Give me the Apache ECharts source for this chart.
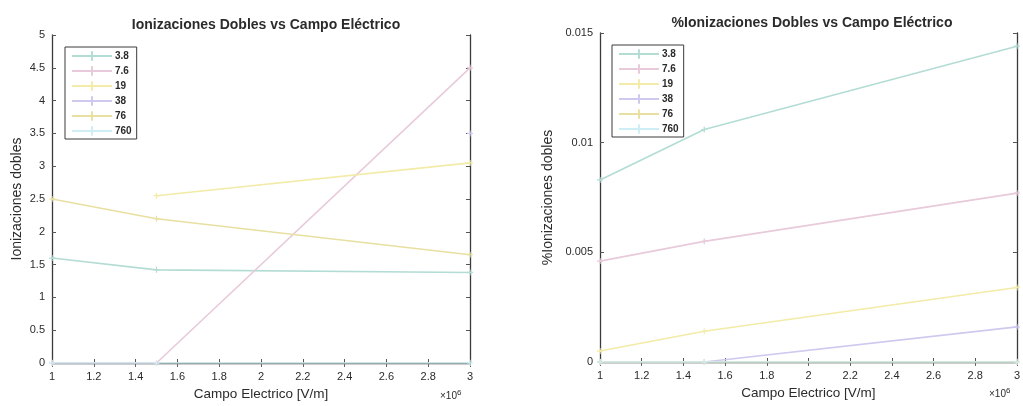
<!DOCTYPE html>
<html>
<head>
<meta charset="utf-8">
<title>Ionizaciones Dobles vs Campo Eléctrico</title>
<script src="https://cdn.jsdelivr.net/npm/echarts@6/dist/echarts.min.js"></script>
<style>
  html, body { margin: 0; padding: 0; background: #ffffff; }
  #chart { width: 1023px; height: 406px; }
</style>
</head>
<body>
<div id="chart"></div>
<script>
// Campo eléctrico (x10^6 V/m)
const campo = [1, 1.5, 3];
// Presiones (torr) usadas como leyenda
const presiones = ['3.8', '7.6', '19', '38', '76', '760'];

// Ionizaciones dobles por presión
const dobles_3_8 = [1.6, 1.42, 1.38];
const dobles_7_6 = [0, 0, 4.5];
const dobles_19 = [null, 2.55, 3.05];
const dobles_38 = [null, null, 3.5];
const dobles_76 = [2.5, 2.2, 1.65];
const dobles_760 = [0, 0, 0];

// Porcentaje de ionizaciones dobles por presión
const pct_3_8 = [0.0083, 0.0106, 0.0144];
const pct_7_6 = [0.0046, 0.0055, 0.0077];
const pct_19 = [0.0005, 0.0014, 0.0034];
const pct_38 = [0, 0, 0.0016];
const pct_76 = [0, 0, 0];
const pct_760 = [0, 0, 0];

const colores = ['#b3dcd4', '#e8cada', '#f3eba8', '#cfc8ef', '#e8e0a0', '#cdeef5'];

const serieDobles = [dobles_3_8, dobles_7_6, dobles_19, dobles_38, dobles_76, dobles_760];
const seriePct = [pct_3_8, pct_7_6, pct_19, pct_38, pct_76, pct_760];

const plus = 'path://M4,0H6V4H10V6H6V10H4V6H0V4H4Z';
const ink = '#2b2b2b';
const fontFam = '"Liberation Sans", Arial, sans-serif';

function pares(vals) {
  return campo.map((x, i) => [x, vals[i]]);
}

function makeSeries(sets, xi, yi) {
  return sets.map((vals, k) => ({
    name: presiones[k],
    type: 'line',
    xAxisIndex: xi,
    yAxisIndex: yi,
    data: pares(vals),
    color: colores[k],
    symbol: plus,
    symbolSize: 6,
    showSymbol: true,
    lineStyle: { width: 1.6, color: colores[k] },
    itemStyle: { color: colores[k] },
    animation: false,
    z: 1
  }));
}

function fmtX(v) {
  return Number(v.toFixed(1)).toString();
}

function bottomAxis(gi) {
  return {
    type: 'value', gridIndex: gi, position: 'bottom',
    min: 1, max: 3, interval: 0.2,
    axisLine: { lineStyle: { color: '#3a3a3a', width: 1.3 } },
    axisTick: { inside: true, length: 4, lineStyle: { color: '#555' } },
    axisLabel: { color: ink, fontSize: 11, fontFamily: fontFam, margin: 8, formatter: fmtX },
    splitLine: { show: false },
    name: 'Campo Electrico [V/m]',
    nameLocation: 'middle', nameGap: 24,
    nameTextStyle: { color: ink, fontSize: 13.5, fontFamily: fontFam }
  };
}

function topAxis(gi) {
  return {
    type: 'value', gridIndex: gi, position: 'top',
    min: 1, max: 3, interval: 0.2,
    axisLine: { lineStyle: { color: '#555', width: 1 } },
    axisTick: { inside: true, length: 4, lineStyle: { color: '#666' } },
    axisLabel: { show: false },
    splitLine: { show: false }
  };
}

function leftAxis(gi, max, interval, name, gap, fmt) {
  return {
    type: 'value', gridIndex: gi, position: 'left',
    min: 0, max: max, interval: interval,
    axisLine: { show: true, lineStyle: { color: '#3a3a3a', width: 1.3 } },
    axisTick: { show: true, inside: true, length: 4, lineStyle: { color: '#555' } },
    axisLabel: { color: ink, fontSize: 11, fontFamily: fontFam, margin: 7, formatter: fmt },
    splitLine: { show: false },
    name: name, nameLocation: 'middle', nameGap: gap,
    nameTextStyle: { color: ink, fontSize: 14, fontFamily: fontFam }
  };
}

function rightAxis(gi, max, interval) {
  return {
    type: 'value', gridIndex: gi, position: 'right',
    min: 0, max: max, interval: interval,
    axisLine: { show: true, lineStyle: { color: '#3a3a3a', width: 1.3 } },
    axisTick: { show: true, inside: true, length: 4, lineStyle: { color: '#555' } },
    axisLabel: { show: false },
    splitLine: { show: false }
  };
}

const legendBase = {
  orient: 'vertical',
  data: presiones,
  itemWidth: 40,
  itemHeight: 12,
  itemGap: 5,
  padding: [4, 5, 3, 6],
  borderColor: '#3a3a3a',
  borderWidth: 1,
  backgroundColor: '#ffffff',
  textStyle: { color: ink, fontSize: 10, fontWeight: 'bold', fontFamily: fontFam, padding: [0, 0, 0, -2] },
  selectedMode: false
};

const potencia = {
  text: '{a|×10}{b|6}',
  rich: {
    a: { fill: ink, fontSize: 10, fontFamily: fontFam },
    b: { fill: ink, fontSize: 8, fontFamily: fontFam, verticalAlign: 'top', padding: [0, 0, 6, 0] }
  }
};

const chart = echarts.init(document.getElementById('chart'), null, { renderer: 'canvas' });

chart.setOption({
  backgroundColor: '#ffffff',
  animation: false,
  title: [
    {
      text: 'Ionizaciones Dobles vs Campo Eléctrico',
      left: 261, top: 13, textAlign: 'center',
      textStyle: { color: ink, fontSize: 14, fontWeight: 'bold', fontFamily: fontFam }
    },
    {
      text: '%Ionizaciones Dobles vs Campo Eléctrico',
      left: 807, top: 11, textAlign: 'center',
      textStyle: { color: ink, fontSize: 14, fontWeight: 'bold', fontFamily: fontFam }
    }
  ],
  legend: [
    Object.assign({}, legendBase, { left: 65, top: 47 }),
    Object.assign({}, legendBase, { left: 612, top: 45 })
  ],
  grid: [
    { left: 52, top: 35, width: 418, height: 331 },
    { left: 600, top: 33, width: 418, height: 329 }
  ],
  xAxis: [bottomAxis(0), topAxis(0), bottomAxis(1), topAxis(1)],
  yAxis: [
    leftAxis(0, 5, 0.5, 'Ionizaciones dobles', 28, v => String(v)),
    rightAxis(0, 5, 0.5),
    leftAxis(1, 0.015, 0.005, '%Ionizaciones dobles', 45, v => (v === 0 ? '0' : String(Number(v.toFixed(3))))),
    rightAxis(1, 0.015, 0.005)
  ],
  graphic: [
    { type: 'text', left: 440, top: 389, style: potencia },
    { type: 'text', left: 989, top: 387, style: potencia }
  ],
  series: makeSeries(serieDobles, 0, 0).concat(makeSeries(seriePct, 2, 2))
});
</script>
</body>
</html>
